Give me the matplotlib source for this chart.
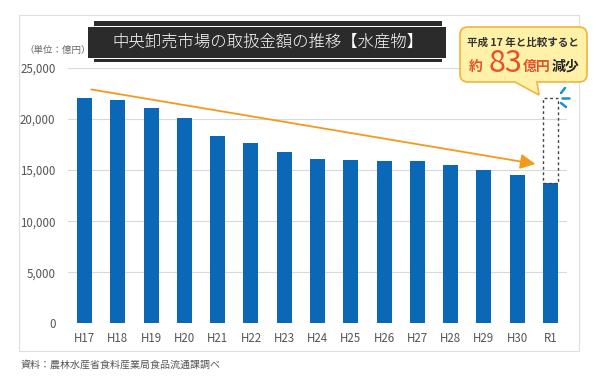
import matplotlib
matplotlib.use("Agg")
import matplotlib.pyplot as plt
from matplotlib.patches import Rectangle, PathPatch
from matplotlib.path import Path

plt.rcParams['font.family'] = ['Noto Sans CJK JP', 'DejaVu Sans']

categories = ["H17", "H18", "H19", "H20", "H21", "H22", "H23", "H24",
              "H25", "H26", "H27", "H28", "H29", "H30", "R1"]
values = [22100, 21840, 21130, 20110, 18320, 17670, 16730, 16040,
          15990, 15880, 15940, 15480, 15060, 14540, 13700]
yticks = [0, 5000, 10000, 15000, 20000, 25000]
ytick_labels = ["0", "5,000", "10,000", "15,000", "20,000", "25,000"]

W, H = 600, 382
fig = plt.figure(figsize=(W / 100, H / 100), dpi=100)
fig.patch.set_facecolor("white")

def P(x, y):
    return (x / W, 1 - y / H)

# outer chart frame
fig.patches.append(Rectangle(P(19, 351), 560 / W, 336 / H, transform=fig.transFigure,
                             facecolor="none", edgecolor="#dedede", lw=0.8, zorder=-1))

ax = fig.add_axes([68 / W, 1 - 323.3 / H, (567 - 68) / W, (323.3 - 68) / H])
ax.set_facecolor("none")
bar_color = "#0A68B6"
x = list(range(len(categories)))
ax.bar(x, values, width=0.45, color=bar_color, zorder=3)
ax.set_xlim(-0.5, len(categories) - 0.5)
ax.set_ylim(0, 25000)
ax.set_yticks(yticks)
ax.set_yticklabels(ytick_labels)
ax.set_xticks(x)
ax.set_xticklabels(categories)
ax.tick_params(axis="both", length=0, colors="#555555", labelsize=8.3)
ax.tick_params(axis="y", pad=9)
ax.tick_params(axis="x", pad=6)
ax.grid(axis="y", color="#d9d9d9", lw=0.8, zorder=0)
for s in ax.spines.values():
    s.set_visible(False)

# dashed box showing H17 level over R1
rx = x[-1]
ax.add_patch(Rectangle((rx - 0.225, values[-1]), 0.45, values[0] - values[-1],
                       fill=False, edgecolor="#444444", lw=1.0, ls=(0, (2, 2)), zorder=4))

# orange trend arrow
ax.annotate("", xy=(13.55, 15600), xytext=(0.2, 22900),
            arrowprops=dict(arrowstyle="-|>,head_length=0.9,head_width=0.45",
                            color="#F39A1E", lw=1.3, shrinkA=0, shrinkB=0), zorder=5)

# sparkle strokes
for (xa, ya, xb, yb) in [(561, 93, 565, 88), (562, 98, 569, 98), (561, 103, 566, 107)]:
    fig.add_artist(plt.Line2D([xa / W, xb / W], [1 - ya / H, 1 - yb / H],
                              transform=fig.transFigure, color="#1C8FD6", lw=1.8,
                              solid_capstyle="round"))

# title box
fig.patches.append(Rectangle(P(94, 62), (442 - 94) / W, 41 / H, transform=fig.transFigure,
                             facecolor="#2b2b2b", edgecolor="none", zorder=2))
fig.patches.append(Rectangle(P(94, 58.5), (442 - 94) / W, 33 / H, transform=fig.transFigure,
                             facecolor="white", edgecolor="none", zorder=2))
fig.patches.append(Rectangle(P(88, 57.5), (446 - 88) / W, 31 / H, transform=fig.transFigure,
                             facecolor="#2b2b2b", edgecolor="none", zorder=2))
fig.text(*P(268, 42), "中央卸売市場の取扱金額の推移【水産物】", color="white",
         fontsize=11.8, fontweight="light", ha="center", va="center", zorder=3)

fig.text(*P(24, 50), "（単位：億円）", color="#666666", fontsize=6.8, ha="left", va="center")
fig.text(*P(21, 365), "資料：農林水産省食料産業局食品流通課調べ", color="#555555",
         fontsize=7.2, ha="left", va="center")

# callout bubble
x0, x1, y0, y1, r = 460, 587, 27, 82, 8
xa, xb, tip = 515, 537, (539, 95)
pts = [(x0 + r, y0), (x1 - r, y0), (x1, y0), (x1, y0 + r), (x1, y1 - r), (x1, y1), (x1 - r, y1),
       (xb, y1), tip, (xa, y1), (x0 + r, y1), (x0, y1), (x0, y1 - r), (x0, y0 + r), (x0, y0),
       (x0 + r, y0), (x0 + r, y0)]
codes = [Path.MOVETO, Path.LINETO, Path.CURVE3, Path.CURVE3, Path.LINETO, Path.CURVE3, Path.CURVE3,
         Path.LINETO, Path.LINETO, Path.LINETO, Path.LINETO, Path.CURVE3, Path.CURVE3, Path.LINETO,
         Path.CURVE3, Path.CURVE3, Path.CLOSEPOLY]
path = Path([P(a, b) for a, b in pts], codes)
fig.patches.append(PathPatch(path, transform=fig.transFigure, facecolor="#FFF2A8",
                             edgecolor="#F0B43C", lw=1.2, zorder=5))
fig.text(*P(523, 43), "平成 17 年と比較すると", color="#333333", fontsize=7.6,
         fontweight="bold", ha="center", va="center", zorder=6)
red = "#E8502A"
fig.text(*P(476, 67), "約", color=red, fontsize=10, fontweight="bold",
         ha="center", va="center", zorder=6)
fig.text(*P(506, 64), "83", color=red, fontsize=22, ha="center", va="center", zorder=6)
fig.text(*P(537, 67), "億円", color=red, fontsize=10, fontweight="bold",
         ha="center", va="center", zorder=6)
fig.text(*P(565, 67), "減少", color="#222222", fontsize=10, fontweight="bold",
         ha="center", va="center", zorder=6)

fig.savefig("out.png", dpi=100)
